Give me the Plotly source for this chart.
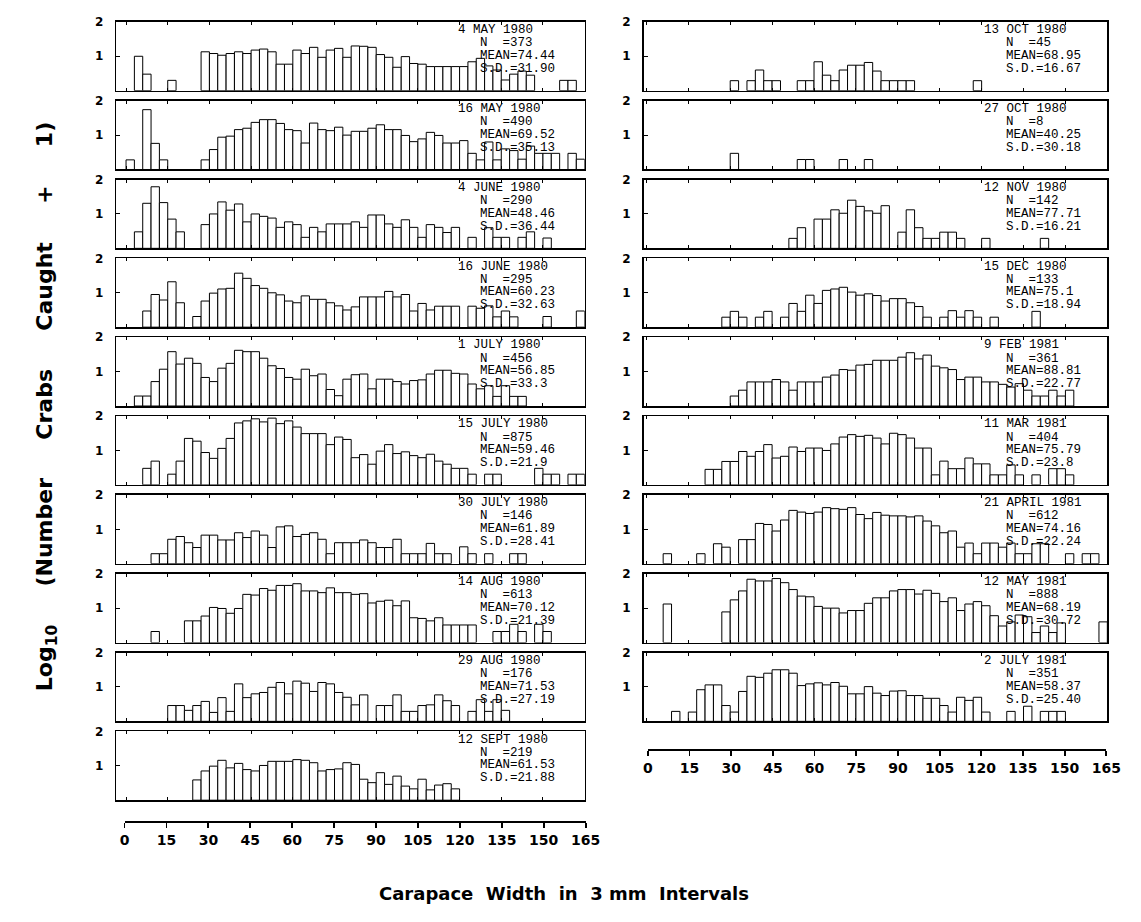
import plotly.graph_objects as go

# ---------------- data (log10(number caught + 1) per 3 mm carapace-width class) ----------------
BIN_WIDTH = 3
N_BINS = 55
bin_centres = [BIN_WIDTH * i + BIN_WIDTH / 2 for i in range(N_BINS)]
axis_ticks = list(range(0, 166, 15))

may04_1980 = [0, 1.0, 0.48, 0, 0, 0.30, 0, 0, 0,
              1.13, 1.08, 1.03, 1.08, 1.13, 1.08, 1.18, 1.21, 1.13, 0.77,
              0.77, 1.18, 1.08, 1.26, 0.97, 1.18, 1.23, 0.97, 1.30, 1.29,
              1.26, 1.05, 0.97, 0.68, 0.99, 0.79, 0.77, 0.70, 0.70, 0.70,
              0.70, 0.70, 0.84, 0.94, 0.72, 0.60, 0.31, 0.48, 0.57, 0.45,
              0, 0, 0, 0.30, 0.30, 0]
may16_1980 = [0.28, 0, 1.74, 0.76, 0.28, 0, 0, 0, 0,
              0.28, 0.58, 0.94, 0.97, 1.16, 1.20, 1.37, 1.45, 1.45, 1.34,
              1.16, 1.13, 0.77, 1.35, 1.16, 1.13, 1.23, 1.00, 1.11, 1.11,
              1.20, 1.30, 1.16, 1.16, 0.99, 0.81, 0.89, 1.08, 0.99, 0.77,
              0.77, 0.84, 0.47, 0.28, 0.80, 0.28, 0.60, 0.55, 0.30, 0.68,
              0.47, 0.47, 0.47, 0, 0.47, 0.30]
jun04_1980 = [0, 0.48, 1.31, 1.79, 1.33, 0.85, 0.48, 0, 0,
              0.69, 1.0, 1.35, 1.11, 1.29, 0.77, 1.0, 0.93, 0.88, 0.61,
              0.77, 0.69, 0.32, 0.61, 0.48, 0.71, 0.71, 0.71, 0.77, 0.61,
              0.97, 0.97, 0.71, 0.61, 0.83, 0.61, 0.32, 0.69, 0.61, 0.46,
              0.61, 0, 0.32, 0, 0.60, 0.32, 0.32, 0, 0.32, 0.48,
              0, 0.30, 0, 0, 0, 0]
jun16_1980 = [0, 0, 0.47, 0.95, 0.79, 1.32, 0.71, 0, 0.31,
              0.76, 0.99, 1.11, 1.13, 1.57, 1.42, 1.21, 1.13, 1.0, 0.94,
              0.76, 0.71, 0.91, 0.81, 0.81, 0.71, 0.62, 0.50, 0.59, 0.88,
              0.88, 0.88, 1.04, 0.88, 0.95, 0.47, 0.69, 0.50, 0.61, 0.61,
              0.61, 0, 0.61, 0.55, 0.62, 0.30, 0.47, 0.30, 0, 0,
              0, 0.31, 0, 0, 0, 0.47]
jul01_1980 = [0, 0.29, 0.29, 0.71, 1.07, 1.58, 1.22, 1.39, 1.24,
              0.83, 0.71, 1.10, 1.24, 1.62, 1.58, 1.58, 1.39, 1.17, 1.09,
              0.83, 0.78, 1.07, 0.88, 0.93, 0.48, 0.30, 0.78, 0.91, 0.93,
              0.50, 0.78, 0.78, 0.71, 0.64, 0.74, 0.76, 0.93, 1.04, 1.04,
              0.95, 0.93, 0.64, 0.50, 0.59, 0.28, 0.59, 0.28, 0.28, 0,
              0, 0, 0, 0, 0, 0]
jul15_1980 = [0, 0, 0.48, 0.69, 0, 0.31, 0.69, 1.35, 1.27,
              0.94, 0.77, 1.06, 1.35, 1.80, 1.86, 1.92, 1.83, 1.94, 1.78,
              1.86, 1.68, 1.49, 1.49, 1.49, 1.17, 1.39, 1.32, 0.79, 0.88,
              0.60, 0.98, 1.17, 0.91, 0.96, 0.85, 0.79, 0.89, 0.69, 0.60,
              0.48, 0.48, 0.31, 0, 0.31, 0.31, 0, 0, 0, 0,
              0.48, 0.31, 0.31, 0, 0.31, 0.31]
jul30_1980 = [0, 0, 0, 0.29, 0.29, 0.71, 0.79, 0.61, 0.47,
              0.83, 0.83, 0.69, 0.69, 0.90, 0.76, 0.95, 0.83, 0.47, 1.07,
              1.10, 0.79, 0.85, 0.90, 0.71, 0.29, 0.61, 0.61, 0.61, 0.69,
              0.61, 0.47, 0.47, 0.71, 0.29, 0.29, 0.29, 0.59, 0.29, 0.29,
              0, 0.49, 0.29, 0, 0.29, 0, 0, 0.29, 0.29, 0,
              0, 0, 0, 0, 0, 0]
aug14_1980 = [0, 0, 0, 0.32, 0, 0, 0, 0.63, 0.63,
              0.77, 1.02, 0.99, 0.85, 0.99, 1.40, 1.38, 1.57, 1.52, 1.66,
              1.66, 1.71, 1.50, 1.50, 1.45, 1.59, 1.45, 1.45, 1.40, 1.42,
              1.15, 1.20, 1.23, 1.07, 1.21, 0.72, 0.70, 0.63, 0.72, 0.51,
              0.51, 0.51, 0.51, 0, 0, 0.32, 0.32, 0.53, 0.32, 0,
              0.53, 0.32, 0, 0, 0, 0]
aug29_1980 = [0, 0, 0, 0, 0, 0.46, 0.46, 0.32, 0.46,
              0.58, 0.26, 0.69, 0.29, 1.09, 0.69, 0.80, 0.84, 0.99, 1.13,
              0.80, 1.17, 1.11, 0.87, 1.13, 1.09, 0.84, 0.70, 0.48, 0.77,
              0, 0.46, 0.46, 0.77, 0.29, 0.29, 0.46, 0.48, 0.77, 0.60,
              0.46, 0, 0.29, 0.63, 0.29, 0.63, 0.32, 0, 0, 0,
              0, 0, 0, 0, 0, 0]
sep12_1980 = [0, 0, 0, 0, 0, 0, 0, 0, 0.59,
              0.85, 0.99, 1.16, 0.94, 1.07, 0.89, 0.85, 1.01, 1.13, 1.13,
              1.13, 1.18, 1.16, 1.09, 0.85, 0.89, 0.91, 1.09, 1.04, 0.61,
              0.51, 0.80, 0.46, 0.70, 0.41, 0.33, 0.61, 0.30, 0.44, 0.48,
              0.33, 0, 0, 0, 0, 0, 0, 0, 0, 0,
              0, 0, 0, 0, 0, 0]

oct13_1980 = [0, 0, 0, 0, 0, 0, 0, 0, 0, 0,
              0.29, 0, 0.29, 0.60, 0.29, 0.29, 0, 0, 0.29, 0.29,
              0.84, 0.45, 0.29, 0.60, 0.74, 0.74, 0.82, 0.57, 0.29, 0.29,
              0.29, 0.29, 0, 0, 0, 0, 0, 0, 0, 0.29,
              0, 0, 0, 0, 0, 0, 0, 0, 0, 0,
              0, 0, 0, 0, 0]
oct27_1980 = [0, 0, 0, 0, 0, 0, 0, 0, 0, 0,
              0.47, 0, 0, 0, 0, 0, 0, 0, 0.29, 0.29,
              0, 0, 0, 0.29, 0, 0, 0.29, 0, 0, 0,
              0, 0, 0, 0, 0, 0, 0, 0, 0, 0,
              0, 0, 0, 0, 0, 0, 0, 0, 0, 0,
              0, 0, 0, 0, 0]
nov12_1980 = [0, 0, 0, 0, 0, 0, 0, 0, 0, 0,
              0, 0, 0, 0, 0, 0, 0, 0.29, 0.60, 0,
              0.85, 0.85, 1.12, 1.02, 1.40, 1.22, 1.09, 1.02, 1.24, 0,
              0.47, 1.12, 0.60, 0.29, 0.29, 0.47, 0.47, 0.29, 0, 0,
              0.29, 0, 0, 0, 0, 0, 0, 0.29, 0, 0,
              0, 0, 0, 0, 0]
dec15_1980 = [0, 0, 0, 0, 0, 0, 0, 0, 0, 0.29,
              0.46, 0.29, 0, 0.29, 0.46, 0, 0.29, 0.69, 0.46, 0.93,
              0.69, 1.07, 1.11, 1.16, 1.02, 0.93, 0.97, 0.92, 0.76, 0.83,
              0.83, 0.71, 0.60, 0.29, 0, 0.29, 0.48, 0.29, 0.48, 0.29,
              0, 0.29, 0, 0, 0, 0, 0.46, 0, 0, 0,
              0, 0, 0, 0, 0]
feb09_1981 = [0, 0, 0, 0, 0, 0, 0, 0, 0, 0,
              0.29, 0.46, 0.70, 0.70, 0.70, 0.77, 0.70, 0.46, 0.70, 0.70,
              0.70, 0.84, 0.90, 1.06, 1.04, 1.19, 1.21, 1.33, 1.33, 1.33,
              1.42, 1.55, 1.37, 1.48, 1.16, 1.11, 1.06, 0.77, 0.84, 0.84,
              0.70, 0.70, 0.63, 0.55, 0.65, 0.46, 0.29, 0.29, 0.46, 0.29,
              0.46, 0, 0, 0, 0]
mar11_1981 = [0, 0, 0, 0, 0, 0, 0, 0.45, 0.45, 0.68,
              0.68, 0.97, 0.83, 0.97, 1.17, 0.78, 0.83, 1.10, 0.97, 1.07,
              1.07, 1.0, 1.19, 1.39, 1.46, 1.41, 1.44, 1.36, 1.19, 1.50,
              1.46, 1.36, 1.07, 1.07, 0.29, 0.69, 0.47, 0.47, 0.78, 0.61,
              0.61, 0.29, 0.29, 0.58, 0.29, 0, 0.29, 0, 0.47, 0.47,
              0.29, 0, 0, 0, 0]
apr21_1981 = [0, 0, 0.29, 0, 0, 0, 0.29, 0, 0.58, 0.48,
              0, 0.70, 0.70, 1.17, 1.14, 0.95, 1.27, 1.55, 1.50, 1.46,
              1.50, 1.63, 1.60, 1.58, 1.63, 1.43, 1.31, 1.49, 1.41, 1.39,
              1.39, 1.36, 1.39, 1.24, 1.10, 0.90, 0.95, 0.48, 0.60, 0.29,
              0.60, 0.60, 0.48, 0.60, 0.29, 0.29, 0.58, 0.58, 0, 0,
              0.29, 0, 0.29, 0.29, 0]
may12_1981 = [0, 0, 1.12, 0, 0, 0, 0, 0, 0, 0.89,
              1.24, 1.50, 1.84, 1.79, 1.79, 1.86, 1.74, 1.54, 1.35, 1.33,
              1.05, 1.0, 1.0, 0.86, 0.93, 0.93, 1.14, 1.30, 1.30, 1.50,
              1.54, 1.54, 1.41, 1.52, 1.43, 1.19, 1.30, 0.93, 1.12, 1.19,
              1.07, 0.78, 0.48, 0.60, 0.80, 0.75, 0.29, 0.48, 0.29, 0.57,
              0, 0, 0, 0, 0.60]
jul02_1981 = [0, 0, 0, 0.29, 0, 0.27, 0.92, 1.06, 1.06, 0.46,
              0.27, 0.87, 1.31, 1.28, 1.40, 1.50, 1.50, 1.40, 1.04, 1.09,
              1.12, 1.06, 1.13, 1.02, 0.80, 0.80, 1.01, 0.82, 0.75, 0.88,
              0.89, 0.75, 0.75, 0.67, 0.67, 0.46, 0.27, 0.70, 0.61, 0.70,
              0.27, 0, 0, 0.29, 0, 0.44, 0, 0.29, 0.29, 0.29,
              0, 0, 0, 0, 0]

left_series = [may04_1980, may16_1980, jun04_1980, jun16_1980, jul01_1980,
               jul15_1980, jul30_1980, aug14_1980, aug29_1980, sep12_1980]
left_dates = ["4 MAY 1980", "16 MAY 1980", "4 JUNE 1980", "16 JUNE 1980", "1 JULY 1980",
              "15 JULY 1980", "30 JULY 1980", "14 AUG 1980", "29 AUG 1980", "12 SEPT 1980"]
left_n = ["373", "490", "290", "295", "456", "875", "146", "613", "176", "219"]
left_mean = ["74.44", "69.52", "48.46", "60.23", "56.85", "59.46", "61.89", "70.12", "71.53", "61.53"]
left_sd = ["31.90", "35.13", "36.44", "32.63", "33.3", "21.9", "28.41", "21.39", "27.19", "21.88"]

right_series = [oct13_1980, oct27_1980, nov12_1980, dec15_1980, feb09_1981,
                mar11_1981, apr21_1981, may12_1981, jul02_1981]
right_dates = ["13 OCT 1980", "27 OCT 1980", "12 NOV 1980", "15 DEC 1980", "9 FEB 1981",
               "11 MAR 1981", "21 APRIL 1981", "12 MAY 1981", "2 JULY 1981"]
right_n = ["45", "8", "142", "133", "361", "404", "612", "888", "351"]
right_mean = ["68.95", "40.25", "77.71", "75.1", "88.81", "75.79", "74.16", "68.19", "58.37"]
right_sd = ["16.67", "30.18", "16.21", "18.94", "22.77", "23.8", "22.24", "30.72", "25.40"]

# ---------------- layout geometry (pixels) ----------------
W, H = 1141, 922
TOP0, PITCH, PH = 15.0, 79.44, 69.3
COLS = {
    "left": dict(x0=113.3, x1=590.0, xmin=-3.5, date_x=460.0, stat_x=482.3,
                 ax0=121.7, ax1=591.0, axis_y=820.5),
    "right": dict(x0=650.0, x1=1122.0, xmin=-1.0, date_x=995.0, stat_x=1017.5,
                  ax0=654.3, ax1=1121.0, axis_y=747.7),
}


def fx(p):
    return p / W


def fy(p):
    return 1 - p / H


fig = go.Figure()
layout = dict(
    width=W, height=H, margin=dict(l=0, r=0, t=0, b=0),
    paper_bgcolor="white", plot_bgcolor="white", showlegend=False,
    bargap=0,
)
annotations = []

TEXT_FONT = dict(family="Liberation Mono", size=12.5, color="black")
TICK_FONT = dict(family="DejaVu Sans", size=12, color="black", weight="bold")

panels = []
for i, s in enumerate(left_series):
    panels.append(("left", i, s, left_dates[i], left_n[i], left_mean[i], left_sd[i]))
for i, s in enumerate(right_series):
    panels.append(("right", i, s, right_dates[i], right_n[i], right_mean[i], right_sd[i]))

for k, (col, row, series, date, n, mean, sd) in enumerate(panels):
    a = k + 1
    c = COLS[col]
    top = TOP0 + row * PITCH
    bottom = top + PH
    xa = "xaxis" if a == 1 else f"xaxis{a}"
    ya = "yaxis" if a == 1 else f"yaxis{a}"
    layout[xa] = dict(
        domain=[fx(c["x0"]), fx(c["x1"])], range=[c["xmin"], 165], anchor=f"y{a}",
        showline=True, mirror="ticks", linecolor="black", linewidth=1.5,
        ticks="inside", tickvals=axis_ticks, ticklen=3, tickwidth=1, tickcolor="black",
        showticklabels=False, showgrid=False, zeroline=False, fixedrange=True,
    )
    layout[ya] = dict(
        domain=[fy(bottom), fy(top)], range=[0, 2], anchor=f"x{a}",
        showline=True, mirror=True, linecolor="black", linewidth=1.5,
        ticks="inside", tickvals=[1, 2], ticktext=["1", "2"], ticklen=4, tickwidth=1,
        tickcolor="black", tickfont=TICK_FONT, ticklabelstandoff=9,
        showgrid=False, zeroline=False, fixedrange=True,
    )
    fig.add_trace(go.Bar(
        x=bin_centres, y=[v if v > 0 else None for v in series], width=BIN_WIDTH,
        marker=dict(color="white", line=dict(color="black", width=1)),
        xaxis=f"x{a}", yaxis=f"y{a}", hoverinfo="skip", showlegend=False,
    ))
    lines = [(c["date_x"], top + 8.3, date),
             (c["stat_x"], top + 21.7, f"N  ={n}"),
             (c["stat_x"], top + 34.3, f"MEAN={mean}"),
             (c["stat_x"], top + 47.3, f"S.D.={sd}")]
    for (px, py, txt) in lines:
        annotations.append(dict(
            x=fx(px), y=fy(py), xref="paper", yref="paper", xanchor="left", yanchor="middle",
            text=txt, showarrow=False, font=TEXT_FONT, borderpad=0,
        ))

# bottom scale axes for each column
for j, col in enumerate(["left", "right"]):
    a = 20 + j
    c = COLS[col]
    layout[f"xaxis{a}"] = dict(
        domain=[fx(c["ax0"]), fx(c["ax1"])], range=[0, 165], anchor=f"y{a}",
        showline=True, linecolor="black", linewidth=1.8,
        ticks="outside", tickvals=axis_ticks, ticklen=5, tickwidth=1.8, tickcolor="black",
        tickfont=dict(family="DejaVu Sans", size=14, color="black", weight="bold"),
        showgrid=False, zeroline=False, fixedrange=True,
    )
    layout[f"yaxis{a}"] = dict(
        domain=[fy(c["axis_y"]), fy(c["axis_y"]) + 0.01], range=[0, 1], anchor=f"x{a}",
        visible=False, fixedrange=True,
    )
    fig.add_trace(go.Scatter(x=[None], y=[None], mode="markers", xaxis=f"x{a}", yaxis=f"y{a}",
                             hoverinfo="skip", showlegend=False))

NB = "\u00a0"
gap = NB * 5
y_title = f"Log<sub>10</sub>{gap}(Number{gap}Crabs{gap}Caught{gap}+{gap}1)"
annotations.append(dict(
    x=fx(43), y=fy(403), xref="paper", yref="paper", xanchor="center", yanchor="middle",
    text=y_title, textangle=-90, showarrow=False,
    font=dict(family="DejaVu Sans", size=22, color="black", weight="bold"),
))
x_title = f"Carapace{NB*2}Width{NB*2}in{NB*2}3{NB}mm{NB*2}Intervals"
annotations.append(dict(
    x=fx(569), y=fy(893), xref="paper", yref="paper", xanchor="center", yanchor="middle",
    text=x_title, showarrow=False,
    font=dict(family="DejaVu Sans", size=18, color="black", weight="bold"),
))

layout["annotations"] = annotations
fig.update_layout(**layout)
fig.write_html(
    "out.html",
    config={"displayModeBar": False, "staticPlot": True},
    post_script="document.body.style.margin='0px';document.body.style.overflow='hidden';",
)
